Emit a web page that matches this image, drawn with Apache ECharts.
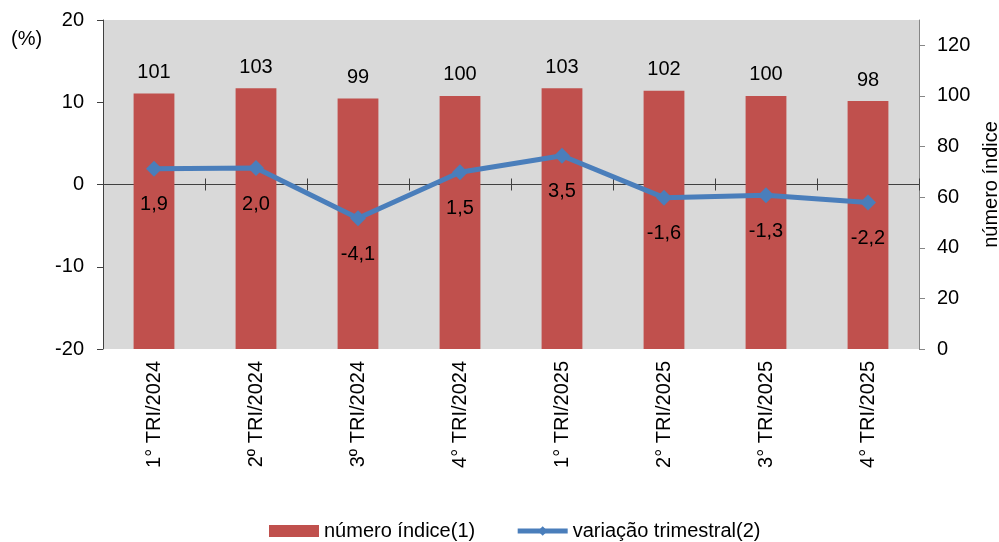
<!DOCTYPE html>
<html>
<head>
<meta charset="utf-8">
<script src="https://cdn.jsdelivr.net/npm/echarts@6/dist/echarts.min.js"></script>
<style>
html,body{margin:0;padding:0;background:#fff;}
#chart{width:999px;height:542px;}
</style>
</head>
<body>
<div id="chart"></div>
<script>
const categories = ['1° TRI/2024','2º TRI/2024','3º TRI/2024','4° TRI/2024','1° TRI/2025','2° TRI/2025','3° TRI/2025','4° TRI/2025'];
const indexValues = [101, 103, 99, 100, 103, 102, 100, 98];
const quarterlyChange = [1.9, 2.0, -4.1, 1.5, 3.5, -1.6, -1.3, -2.2];
const leftTicks = [-20, -10, 0, 10, 20];
const rightTicks = [0, 20, 40, 60, 80, 100, 120];

const FONT = 'Liberation Sans, Arial, sans-serif';
const FS = 20;
const chart = echarts.init(document.getElementById('chart'));
chart.setOption({
  animation: false,
  textStyle: {fontFamily: FONT},
  grid: {left: 103, right: 80, top: 20, bottom: 193, show: true, backgroundColor: '#D9D9D9', borderWidth: 0,
         containLabel: false, outerBoundsMode: 'none'},
  graphic: [{type: 'text', left: 11, top: 29, style: {text: '(%)', font: FS + 'px ' + FONT, fill: '#000'}}],
  legend: {
    left: 264, top: 516, itemGap: 40, itemWidth: 50, itemHeight: 12,
    textStyle: {fontSize: FS, color: '#000', fontFamily: FONT},
    data: [
      {name: 'número índice(1)', icon: 'rect'},
      {name: 'variação trimestral(2)', lineStyle: {width: 5}}
    ]
  },
  xAxis: [
    {type: 'category', data: categories, position: 'bottom',
     axisLine: {show: false, onZero: false}, axisTick: {show: false},
     axisLabel: {rotate: 90, fontSize: FS, color: '#000', margin: 12, fontFamily: FONT}},
    {type: 'category', data: categories, position: 'bottom',
     axisLine: {show: true, onZero: true, onZeroAxisIndex: 0, lineStyle: {color: '#404040', width: 1}},
     axisTick: {show: true, length: 6, lineStyle: {color: '#404040'}}, axisLabel: {show: false}},
    {type: 'category', data: categories, position: 'top',
     axisLine: {show: false, onZero: true, onZeroAxisIndex: 0},
     axisTick: {show: true, length: 6, lineStyle: {color: '#404040'}}, axisLabel: {show: false}}
  ],
  yAxis: [
    {type: 'value', min: -20, max: 20, interval: 10, position: 'left',
     splitLine: {show: false},
     axisLine: {show: true, lineStyle: {color: '#404040'}},
     axisTick: {show: true, length: 6, customValues: leftTicks, lineStyle: {color: '#404040'}},
     axisLabel: {fontSize: FS, color: '#000', margin: 19, customValues: leftTicks, fontFamily: FONT}},
    {type: 'value', min: 0, max: 130, interval: 20, position: 'right',
     splitLine: {show: false},
     name: 'número índice', nameLocation: 'middle', nameRotate: 90, nameGap: 60,
     nameTextStyle: {fontSize: FS, color: '#000', fontFamily: FONT},
     axisLine: {show: true, lineStyle: {color: '#868686'}},
     axisTick: {show: true, length: 6, customValues: rightTicks, lineStyle: {color: '#868686'}},
     axisLabel: {fontSize: FS, color: '#000', margin: 18, customValues: rightTicks, fontFamily: FONT}}
  ],
  series: [
    {name: 'número índice(1)', type: 'bar', xAxisIndex: 0, yAxisIndex: 1, data: indexValues,
     barWidth: '40%', itemStyle: {color: '#C0504D'},
     label: {show: true, position: 'top', distance: 11, fontSize: FS, color: '#000', fontFamily: FONT}},
    {name: 'variação trimestral(2)', type: 'line', xAxisIndex: 0, yAxisIndex: 0, data: quarterlyChange,
     symbol: 'diamond', symbolSize: 16, z: 5,
     lineStyle: {color: '#4A7EBB', width: 5}, itemStyle: {color: '#4A7EBB'},
     label: {show: true, position: 'bottom', distance: 18, fontSize: FS, color: '#000', fontFamily: FONT,
       formatter: p => p.value.toFixed(1).replace('.', ',')}}
  ]
});
</script>
</body>
</html>
